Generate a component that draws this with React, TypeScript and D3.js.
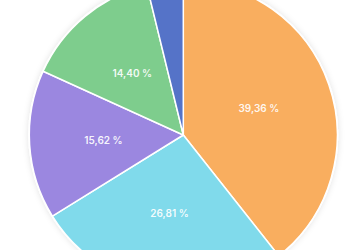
import React from "react";
import * as d3 from "d3";

const labels = ["A", "B", "C", "D", "E"];
const values = [39.36, 26.81, 15.62, 14.40, 3.81];
const colors = ["#F9AE5F", "#80DAEB", "#9B87E0", "#7ECD8D", "#5573C8"];

export default function App() {
  const width = 350, height = 250;
  const cx = 183.3, cy = 135, r = 154;
  const pie = d3.pie<number>().sort(null).value((d) => d)(values);
  const arc = d3.arc<d3.PieArcDatum<number>>().innerRadius(0).outerRadius(r);
  const labelArc = d3.arc<d3.PieArcDatum<number>>().innerRadius(80).outerRadius(80);
  return (
    <svg width={width} height={height} style={{ position: "fixed", left: 0, top: 0 }}>
      <defs>
        <filter id="sh" x="-20%" y="-20%" width="140%" height="140%">
          <feDropShadow dx="0" dy="0" stdDeviation="3" floodColor="#000" floodOpacity="0.12" />
        </filter>
      </defs>
      <rect width={width} height={height} fill="#fff" />
      <g transform={`translate(${cx},${cy})`}>
        <circle r={r + 1} fill="#fff" filter="url(#sh)" />
        {pie.map((p, i) => (
          <path key={labels[i]} d={arc(p) || ""} fill={colors[i]} stroke="#fff" strokeWidth={1.5} strokeLinejoin="round" />
        ))}
        {pie.map((p, i) => {
          if (values[i] < 5) return null;
          const [x, y] = labelArc.centroid(p);
          return (
            <text key={"t" + i} x={x} y={y} dy="0.35em" textAnchor="middle" fill="#fff" fillOpacity={0.92} fontFamily="Inter, sans-serif" fontSize={10} fontWeight={600}>
              {values[i].toFixed(2).replace(".", ",")} %
            </text>
          );
        })}
      </g>
    </svg>
  );
}
